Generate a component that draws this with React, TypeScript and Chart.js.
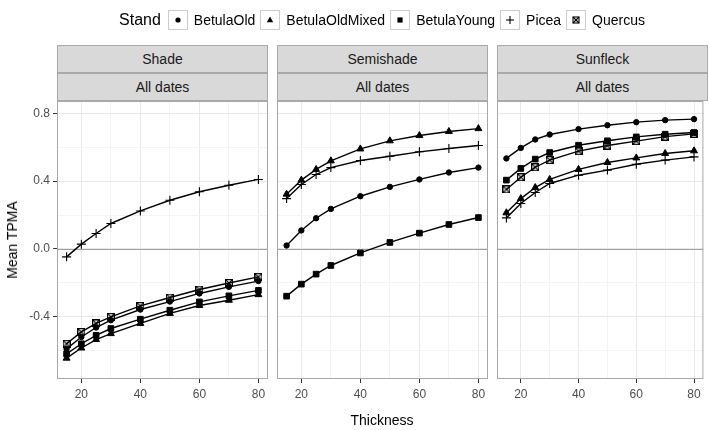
import React, { useEffect, useRef } from "react";
import { Chart, registerables } from "chart.js";
Chart.register(...registerables);

// ---------------- data ----------------
const thickness = [15, 20, 25, 30, 40, 50, 60, 70, 80];
const stands = ["BetulaOld", "BetulaOldMixed", "BetulaYoung", "Picea", "Quercus"];
const panelNames = ["Shade", "Semishade", "Sunfleck"];
const stripSub = "All dates";

const shadeBetulaOld = [-0.59, -0.52, -0.464, -0.421, -0.358, -0.311, -0.263, -0.224, -0.19];
const shadeBetulaOldMixed = [-0.645, -0.585, -0.535, -0.5, -0.44, -0.381, -0.334, -0.303, -0.27];
const shadeBetulaYoung = [-0.62, -0.56, -0.51, -0.47, -0.415, -0.362, -0.313, -0.277, -0.245];
const shadePicea = [-0.047, 0.028, 0.091, 0.15, 0.224, 0.287, 0.337, 0.376, 0.41];
const shadeQuercus = [-0.56, -0.49, -0.44, -0.401, -0.336, -0.287, -0.24, -0.201, -0.165];

const semiBetulaOld = [0.02, 0.109, 0.181, 0.236, 0.311, 0.366, 0.41, 0.451, 0.48];
const semiBetulaOldMixed = [0.323, 0.406, 0.469, 0.52, 0.59, 0.638, 0.669, 0.693, 0.71];
const semiBetulaYoung = [-0.279, -0.208, -0.149, -0.098, -0.024, 0.038, 0.093, 0.144, 0.185];
const semiPicea = [0.297, 0.38, 0.439, 0.48, 0.522, 0.547, 0.573, 0.593, 0.61];

const sunBetulaOld = [0.534, 0.596, 0.646, 0.675, 0.707, 0.73, 0.748, 0.76, 0.766];
const sunBetulaOldMixed = [0.213, 0.297, 0.362, 0.41, 0.469, 0.51, 0.537, 0.563, 0.579];
const sunBetulaYoung = [0.406, 0.475, 0.53, 0.569, 0.612, 0.638, 0.661, 0.677, 0.687];
const sunPicea = [0.183, 0.268, 0.333, 0.386, 0.435, 0.465, 0.5, 0.524, 0.543];
const sunQuercus = [0.351, 0.423, 0.482, 0.524, 0.577, 0.61, 0.636, 0.663, 0.679];

const xMajorTicks = [20, 40, 60, 80];
const xMinorTicks = [30, 50, 70];
const yMajorTicks = [-0.4, 0.0, 0.4, 0.8];
const yMinorTicks = [-0.6, -0.2, 0.2, 0.6];

const xTitle = "Thickness";
const yTitle = "Mean TPMA";
const legendTitle = "Stand";

// ---------------- layout ----------------
const W = 709;
const H = 430;
const panelBoxes = [
  [57, 268],
  [277, 488],
  [497, 708],
];
const panelTop = 101;
const panelBottom = 379;
const FONT = "'Liberation Sans', Arial, Helvetica, sans-serif";

const panelSeries: (number[] | null)[][] = [
  [shadeBetulaOld, shadeBetulaOldMixed, shadeBetulaYoung, shadePicea, shadeQuercus],
  [semiBetulaOld, semiBetulaOldMixed, semiBetulaYoung, semiPicea, null],
  [sunBetulaOld, sunBetulaOldMixed, sunBetulaYoung, sunPicea, sunQuercus],
];

function makeQuercusPoint(size: number) {
  const c = document.createElement("canvas");
  c.width = size;
  c.height = size;
  const g = c.getContext("2d")!;
  g.strokeStyle = "#000";
  g.lineWidth = 1.2;
  g.strokeRect(0.6, 0.6, size - 1.2, size - 1.2);
  g.beginPath();
  g.moveTo(0.6, 0.6);
  g.lineTo(size - 0.6, size - 0.6);
  g.moveTo(size - 0.6, 0.6);
  g.lineTo(0.6, size - 0.6);
  g.stroke();
  return c;
}

const near = (a: number, arr: number[]) => arr.some((b) => Math.abs(a - b) < 1e-6);

const panelPlugin = {
  id: "panelDeco",
  beforeDatasetsDraw(chart: any) {
    const { ctx, chartArea, scales } = chart;
    const y0 = Math.round(scales.y.getPixelForValue(0)) + 0.5;
    ctx.save();
    ctx.strokeStyle = "#a0a0a0";
    ctx.lineWidth = 1;
    ctx.beginPath();
    ctx.moveTo(chartArea.left, y0);
    ctx.lineTo(chartArea.right, y0);
    ctx.stroke();
    ctx.restore();
  },
  afterDatasetsDraw(chart: any) {
    const { ctx, chartArea } = chart;
    ctx.save();
    ctx.strokeStyle = "#a8a8a8";
    ctx.lineWidth = 1;
    ctx.strokeRect(
      chartArea.left + 0.5,
      chartArea.top + 0.5,
      chartArea.right - chartArea.left - 1,
      chartArea.bottom - chartArea.top - 1
    );
    ctx.restore();
  },
};

function LegendSymbol({ kind }: { kind: number }) {
  const c = 9;
  let el: any = null;
  if (kind === 0) el = <circle cx={c} cy={c} r={2.6} fill="#000" />;
  if (kind === 1) el = <polygon points={`${c},${c - 3.5} ${c + 3.2},${c + 2.2} ${c - 3.2},${c + 2.2}`} fill="#000" />;
  if (kind === 2) el = <rect x={c - 2.6} y={c - 2.6} width={5.2} height={5.2} fill="#000" />;
  if (kind === 3)
    el = (
      <g stroke="#000" strokeWidth={1.1}>
        <line x1={c - 4} y1={c} x2={c + 4} y2={c} />
        <line x1={c} y1={c - 4} x2={c} y2={c + 4} />
      </g>
    );
  if (kind === 4)
    el = (
      <g stroke="#000" strokeWidth={1.1} fill="none">
        <rect x={c - 3} y={c - 3} width={6} height={6} />
        <line x1={c - 3} y1={c - 3} x2={c + 3} y2={c + 3} />
        <line x1={c + 3} y1={c - 3} x2={c - 3} y2={c + 3} />
      </g>
    );
  return (
    <svg width={18} height={18} style={{ display: "block" }}>
      {el}
    </svg>
  );
}

export default function App() {
  const refs = [useRef<HTMLCanvasElement>(null), useRef<HTMLCanvasElement>(null), useRef<HTMLCanvasElement>(null)];

  useEffect(() => {
    const quercus = makeQuercusPoint(8);
    const styles: any[] = ["circle", "triangle", "rect", "cross", quercus];
    const radii = [2.7, 4, 4, 4.5, 4];
    const charts: Chart[] = [];
    panelBoxes.forEach(([left, right], pi) => {
      const canvas = refs[pi].current!;
      const datasets: any[] = [];
      panelSeries[pi].forEach((vals, si) => {
        if (!vals) return;
        datasets.push({
          label: stands[si],
          data: thickness.map((t, i) => ({ x: t, y: vals[i] })),
          borderColor: "#000",
          backgroundColor: "#000",
          borderWidth: 1.4,
          pointStyle: styles[si],
          pointRadius: radii[si],
          pointBorderWidth: si === 3 ? 1.1 : 1,
          pointBorderColor: "#000",
          pointBackgroundColor: "#000",
          tension: 0,
        });
      });
      const first = pi === 0;
      charts.push(
        new Chart(canvas, {
          type: "line",
          data: { datasets },
          plugins: [panelPlugin],
          options: {
            animation: false,
            responsive: false,
            devicePixelRatio: 1,
            layout: { padding: { left: first ? 0 : left, right: W - right, top: panelTop, bottom: 0 } },
            plugins: { legend: { display: false }, tooltip: { enabled: false } },
            scales: {
              x: {
                type: "linear",
                min: 11.75,
                max: 83.25,
                afterBuildTicks: (s: any) => {
                  s.ticks = [...xMajorTicks, ...xMinorTicks].sort((a, b) => a - b).map((v) => ({ value: v }));
                },
                afterFit: (s: any) => {
                  s.height = H - panelBottom;
                },
                border: { display: false },
                grid: {
                  color: (c: any) => (near(c.tick.value, xMajorTicks) ? "#e8e8e8" : "#f4f4f4"),
                  lineWidth: 1,
                  drawTicks: true,
                  tickLength: 4,
                  tickColor: (c: any) => (near(c.tick.value, xMajorTicks) ? "#333333" : "rgba(0,0,0,0)"),
                  tickWidth: 1,
                },
                ticks: {
                  autoSkip: false,
                  maxRotation: 0,
                  padding: 4,
                  color: "#4d4d4d",
                  font: { family: FONT, size: 12 },
                  callback: (v: any) => (near(Number(v), xMajorTicks) ? String(v) : ""),
                },
              },
              y: {
                type: "linear",
                min: -0.768,
                max: 0.873,
                afterBuildTicks: (s: any) => {
                  s.ticks = [...yMajorTicks, ...yMinorTicks].sort((a, b) => a - b).map((v) => ({ value: v }));
                },
                afterFit: (s: any) => {
                  s.width = first ? left : 0;
                },
                border: { display: false },
                grid: {
                  color: (c: any) => (near(c.tick.value, yMajorTicks) ? "#e8e8e8" : "#f4f4f4"),
                  lineWidth: 1,
                  drawTicks: first,
                  tickLength: 4,
                  tickColor: (c: any) => (near(c.tick.value, yMajorTicks) ? "#333333" : "rgba(0,0,0,0)"),
                  tickWidth: 1,
                },
                ticks: {
                  display: first,
                  autoSkip: false,
                  padding: 3,
                  color: "#4d4d4d",
                  font: { family: FONT, size: 12 },
                  callback: (v: any) => (near(Number(v), yMajorTicks) ? Number(v).toFixed(1) : ""),
                },
              },
            },
          },
        } as any)
      );
    });
    return () => charts.forEach((c) => c.destroy());
  }, []);

  const stripStyle = (top: number, left: number, width: number): React.CSSProperties => ({
    position: "absolute",
    top,
    left,
    width: width - 2,
    height: 26,
    background: "#d9d9d9",
    border: "1px solid #a8a8a8",
    display: "flex",
    alignItems: "center",
    justifyContent: "center",
    fontFamily: FONT,
    fontSize: 14,
    color: "#1a1a1a",
  });

  return (
    <div style={{ position: "absolute", left: 0, top: 0, width: W, height: H, background: "#fff", overflow: "hidden" }}>
      {refs.map((r, i) => (
        <canvas key={i} ref={r} width={W} height={H} style={{ position: "absolute", left: 0, top: 0, width: W, height: H }} />
      ))}
      {panelBoxes.map(([l, r], i) => (
        <React.Fragment key={i}>
          <div style={stripStyle(45, l, r - l)}>{panelNames[i]}</div>
          <div style={stripStyle(73, l, r - l)}>{stripSub}</div>
        </React.Fragment>
      ))}
      {/* legend */}
      <div
        style={{
          position: "absolute",
          top: 10,
          left: 382,
          transform: "translateX(-50%)",
          display: "flex",
          alignItems: "center",
          fontFamily: FONT,
          whiteSpace: "nowrap",
          color: "#000",
        }}
      >
        <span style={{ fontSize: 16, marginRight: 7 }}>{legendTitle}</span>
        {stands.map((s, i) => (
          <React.Fragment key={s}>
            <div style={{ width: 18, height: 18, border: "1px solid #cccccc", marginRight: 6 }}>
              <LegendSymbol kind={i} />
            </div>
            <span style={{ fontSize: 14, marginRight: i < stands.length - 1 ? 5 : 0 }}>{s}</span>
          </React.Fragment>
        ))}
      </div>
      <div
        style={{
          position: "absolute",
          left: 382,
          top: 420,
          transform: "translate(-50%, -50%)",
          fontFamily: FONT,
          fontSize: 14,
          color: "#000",
          whiteSpace: "nowrap",
        }}
      >
        {xTitle}
      </div>
      <div
        style={{
          position: "absolute",
          left: 12,
          top: 240,
          transform: "translate(-50%, -50%) rotate(-90deg)",
          fontFamily: FONT,
          fontSize: 14,
          color: "#000",
          whiteSpace: "nowrap",
        }}
      >
        {yTitle}
      </div>
    </div>
  );
}
